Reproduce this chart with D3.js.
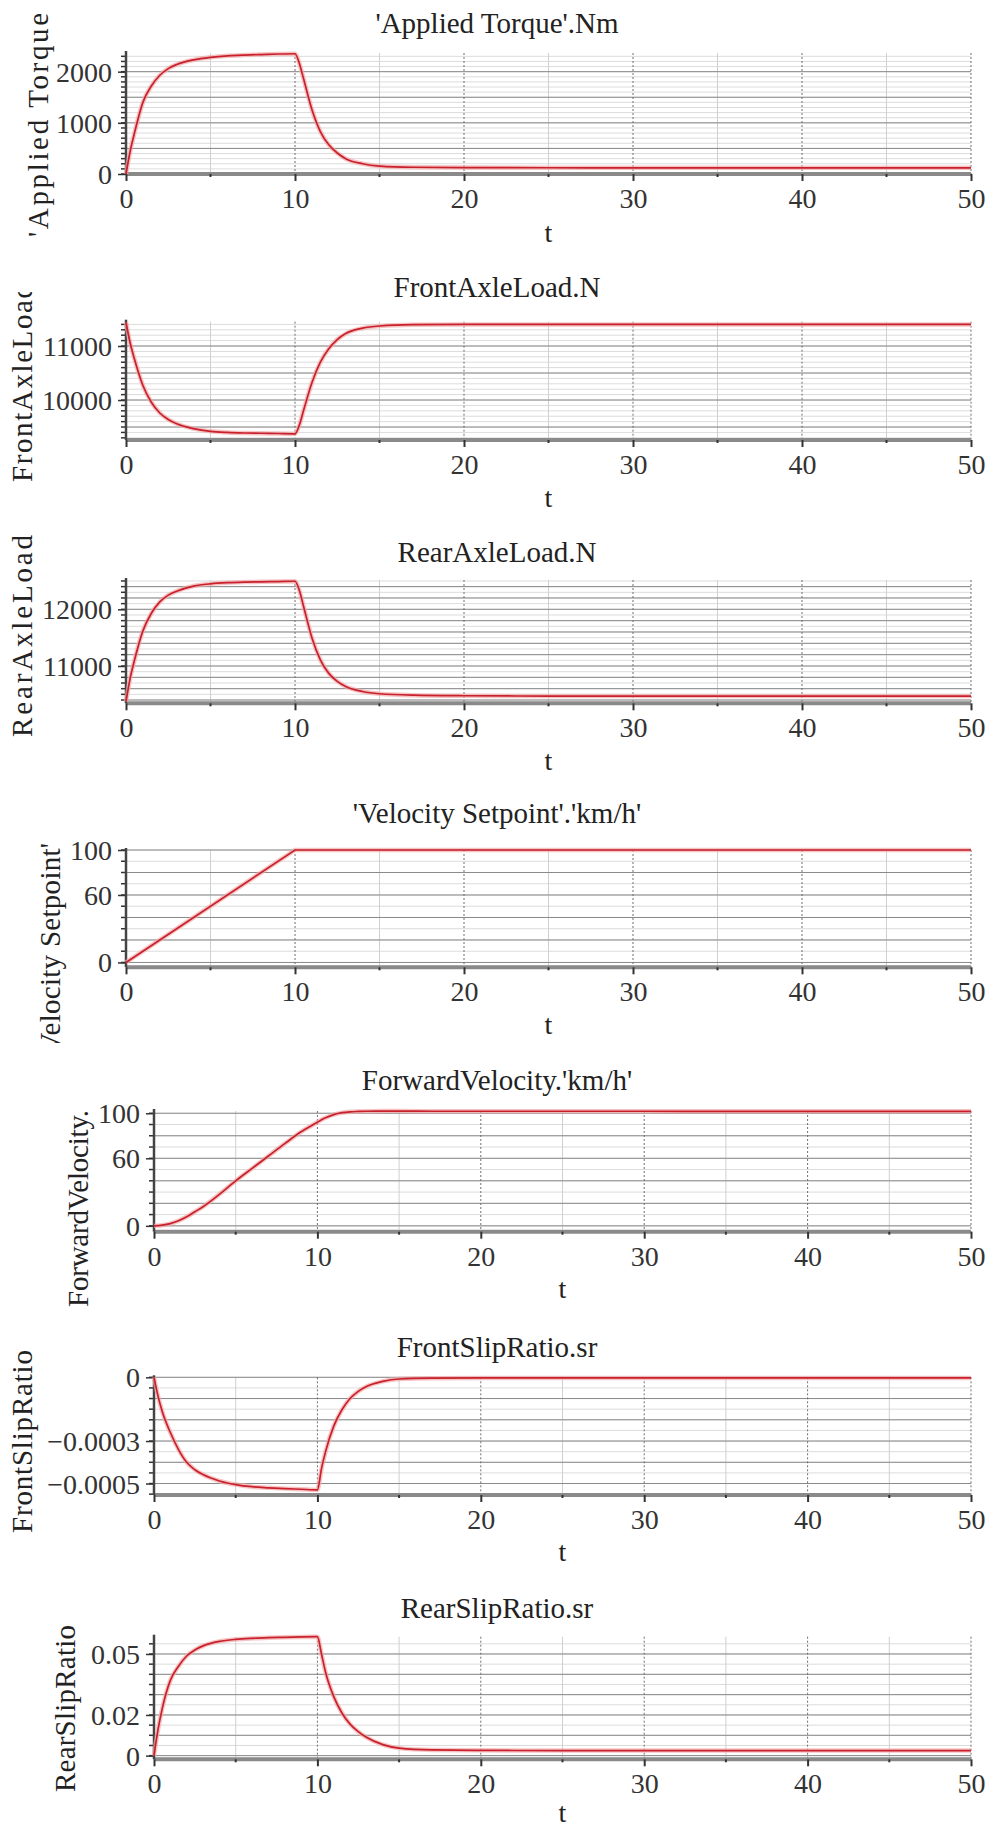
<!DOCTYPE html>
<html><head><meta charset="utf-8">
<script src="https://cdn.jsdelivr.net/npm/d3@7"></script>
<style>body{margin:0;background:#fff}svg{display:block}</style>
</head><body>
<svg id="c" width="997" height="1829"></svg>
<script>
// ---------- data ----------
const xTicks = [0, 10, 20, 30, 40, 50];
const time = [0,0.25,0.5,1,1.5,2,2.5,3,4,5,6,7,8,9,10,10.25,10.5,11,11.5,12,12.5,13,14,15,17,20,25,30,35,40,45,50];

const appliedTorque = [0,450,800,1400,1720,1930,2060,2140,2230,2280,2310,2325,2335,2345,2350,
  2170,1870,1260,830,570,410,300,200,155,132,125,122,120,120,120,120,120];
const frontAxleLoad = [11440,11050,10760,10270,9960,9760,9640,9560,9470,9420,9400,9390,9385,9380,9375,
  9530,9800,10320,10700,10950,11120,11230,11330,11370,11395,11400,11400,11400,11400,11400,11400,11400];
const rearAxleLoad = [10370,10790,11100,11620,11930,12130,12250,12320,12410,12450,12470,12480,12485,12490,12495,
  12340,12060,11500,11110,10870,10730,10640,10550,10510,10485,10475,10470,10470,10470,10470,10470,10470];
const setpointTime = [0, 10, 50];
const velocitySetpoint = [0, 100, 100];
const forwardVelocity = [0,0.2,0.6,2,4.5,8,12.5,17,28,40,51,62,73,83.5,92,
  94.2,96,98.8,100.5,101.3,101.6,101.8,101.9,101.9,101.8,101.8,101.8,101.8,101.7,101.7,101.7,101.7];
const frontSlipRatio = [0,-0.00009,-0.00016,-0.00026,-0.00034,-0.0004,-0.000435,-0.000458,-0.000488,-0.000505,-0.000515,-0.00052,-0.000524,-0.000527,-0.00053,
  -0.00043,-0.00035,-0.00023,-0.000153,-0.0001,-0.000066,-0.000043,-0.000019,-0.000008,-0.000004,-0.000003,-0.000003,-0.000003,-0.000003,-0.000003,-0.000003,-0.000003];
const rearSlipRatio = [0,0.013,0.023,0.037,0.044,0.049,0.052,0.054,0.0562,0.0572,0.0577,0.058,0.0582,0.0584,0.0585,
  0.05,0.041,0.029,0.021,0.0155,0.0118,0.009,0.0054,0.0037,0.0028,0.0026,0.0025,0.0025,0.0025,0.0025,0.0025,0.0025];

const titles = ["'Applied Torque'.Nm", "FrontAxleLoad.N", "RearAxleLoad.N", "'Velocity Setpoint'.'km/h'",
  "ForwardVelocity.'km/h'", "FrontSlipRatio.sr", "RearSlipRatio.sr"];
const yLabels = ["'Applied Torque", "FrontAxleLoad", "RearAxleLoad", "'Velocity Setpoint'",
  "ForwardVelocity.", "FrontSlipRatio", "RearSlipRatio"];
const yTickLabels = [[0,1000,2000],[10000,11000],[11000,12000],[0,60,100],[0,60,100],[0,-0.0003,-0.0005],[0,0.02,0.05]];
const yDomains = [[0,2365],[9260,11450],[10342,12517],[-4.3,100],[-5.2,102],[-0.000554,0],[-0.0018,0.0585]];
const gridSteps = [[500,100],[500,100],[200,100],[20,10],[20,10],[0.0001,0.00005],[0.01,0.005]];
const series = [
  [time, appliedTorque], [time, frontAxleLoad], [time, rearAxleLoad], [setpointTime, velocitySetpoint],
  [time, forwardVelocity], [time, frontSlipRatio], [time, rearSlipRatio]
];

// ---------- layout ----------
const layout = [
  {x0:126, top:53,    bottom:174,    titleY:33,   tY:242,  lx:48, ly:237,  llen:224},
  {x0:126, top:321.7, bottom:440,    titleY:297,  tY:507,  lx:32, ly:482,  llen:198, clipTop:292},
  {x0:126, top:580,   bottom:703.3,  titleY:562,  tY:770,  lx:32, ly:737,  llen:202},
  {x0:126, top:850,   bottom:967.3,  titleY:823,  tY:1034, lx:60, ly:1059, llen:216, clipBottom:1043},
  {x0:154, top:1111,  bottom:1231.7, titleY:1090, tY:1298, lx:88, ly:1307, llen:197},
  {x0:154, top:1377.3,bottom:1495,   titleY:1357, tY:1561, lx:32, ly:1533, llen:183},
  {x0:154, top:1636.7,bottom:1759.3, titleY:1618, tY:1822, lx:75, ly:1792, llen:167}
];
const X1 = 971;
const FONT = "'Liberation Serif', 'Times New Roman', serif";

const svg = d3.select("#c");
const defs = svg.append("defs");
const fmt = d => d < 0 ? "\u2212" + String(-d) : String(d);

function gridValues(dom, step) {
  const a = Math.ceil(dom[0] / step - 1e-9), b = Math.floor(dom[1] / step + 1e-9);
  return d3.range(a, b + 1).map(i => +(i * step).toPrecision(10));
}

layout.forEach((L, i) => {
  const g = svg.append("g").style("font-family", FONT);
  const x = d3.scaleLinear().domain([0, 50]).range([L.x0, X1]);
  const y = d3.scaleLinear().domain(yDomains[i]).range([L.bottom, L.top]);
  const [major, minor] = gridSteps[i];

  // minor horizontal grid
  g.append("g").selectAll("line").data(gridValues(yDomains[i], minor)).join("line")
    .attr("x1", L.x0).attr("x2", X1).attr("y1", d => y(d)).attr("y2", d => y(d))
    .attr("stroke", "#dcdcdc").attr("stroke-width", 1);
  // vertical grid at 5s
  g.append("g").selectAll("line").data([5,15,25,35,45]).join("line")
    .attr("x1", d => x(d)).attr("x2", d => x(d)).attr("y1", L.top).attr("y2", L.bottom)
    .attr("stroke", "#d0d0d0").attr("stroke-width", 1);
  // major horizontal grid
  g.append("g").selectAll("line").data(gridValues(yDomains[i], major)).join("line")
    .attr("x1", L.x0).attr("x2", X1).attr("y1", d => y(d)).attr("y2", d => y(d))
    .attr("stroke", "#8a8a8a").attr("stroke-width", 1);
  // vertical grid at 10s
  g.append("g").selectAll("line").data(xTicks.slice(1)).join("line")
    .attr("x1", d => x(d)).attr("x2", d => x(d)).attr("y1", L.top).attr("y2", L.bottom)
    .attr("stroke", "#6e6e6e").attr("stroke-width", 1).attr("stroke-dasharray", "2,2");

  // x axis line
  g.append("line").attr("x1", L.x0).attr("x2", X1).attr("y1", L.bottom).attr("y2", L.bottom)
    .attr("stroke", "#8a8a8a").attr("stroke-width", 4);
  // x axis ticks
  const xAxis = d3.axisBottom(x).tickValues(xTicks).tickSize(7).tickFormat(d3.format("d"));
  const xa = g.append("g").attr("transform", `translate(0,${L.bottom})`).call(xAxis);
  xa.attr("font-family", null).style("font-family", FONT);
  xa.select(".domain").remove();
  xa.selectAll(".tick line").attr("stroke", "#333").attr("stroke-width", 2);
  xa.selectAll(".tick text").style("font-family", FONT).attr("font-size", 28).attr("fill", "#333")
    .attr("y", 14).attr("dy", "0.71em");
  g.append("g").selectAll("line").data([5,15,25,35,45]).join("line")
    .attr("x1", d => x(d)).attr("x2", d => x(d)).attr("y1", L.bottom).attr("y2", L.bottom + 3)
    .attr("stroke", "#333").attr("stroke-width", 2);

  // y axis: minor ticks + line
  g.append("g").selectAll("line").data(gridValues(yDomains[i], minor)).join("line")
    .attr("x1", L.x0 - 5).attr("x2", L.x0).attr("y1", d => y(d)).attr("y2", d => y(d))
    .attr("stroke", "#333").attr("stroke-width", 1.5);
  const yAxis = d3.axisLeft(y).tickValues(yTickLabels[i]).tickSize(8).tickFormat(fmt);
  const ya = g.append("g").attr("transform", `translate(${L.x0},0)`).call(yAxis);
  ya.attr("font-family", null).style("font-family", FONT);
  ya.select(".domain").remove();
  ya.selectAll(".tick line").attr("stroke", "#333").attr("stroke-width", 1.5);
  ya.selectAll(".tick text").style("font-family", FONT).attr("font-size", 28).attr("fill", "#333")
    .attr("x", -14).attr("dy", "0.34em");
  g.append("line").attr("x1", L.x0).attr("x2", L.x0).attr("y1", L.top - 2).attr("y2", L.bottom)
    .attr("stroke", "#444").attr("stroke-width", 2.5);

  // curve
  const [ts, vs] = series[i];
  const pts = ts.map((t, k) => [t, vs[k]]);
  const line = d3.line().x(d => x(d[0])).y(d => y(d[1]))
    .curve(i === 3 ? d3.curveLinear : d3.curveMonotoneX);
  g.append("path").datum(pts).attr("d", line).attr("fill", "none")
    .attr("stroke", "#f2a9a9").attr("stroke-width", 4.5).attr("stroke-opacity", 0.7);
  g.append("path").datum(pts).attr("d", line).attr("fill", "none")
    .attr("stroke", "#c8202c").attr("stroke-width", 1.7);

  // title
  g.append("text").attr("x", 497).attr("y", L.titleY).attr("text-anchor", "middle")
    .style("font-family", FONT).attr("font-size", 29).attr("fill", "#222").text(titles[i]);
  // x label
  g.append("text").attr("x", (L.x0 + X1) / 2).attr("y", L.tY).attr("text-anchor", "middle")
    .style("font-family", FONT).attr("font-size", 28).attr("fill", "#222").text("t");
  // y label (clipped like the original)
  const cid = "clipY" + i;
  const cTop = L.clipTop !== undefined ? L.clipTop : 0;
  const cBot = L.clipBottom !== undefined ? L.clipBottom : 1829;
  defs.append("clipPath").attr("id", cid).append("rect")
    .attr("x", 0).attr("y", cTop).attr("width", 130).attr("height", cBot - cTop);
  const lab = g.append("g").attr("clip-path", `url(#${cid})`).append("text")
    .attr("transform", `translate(${L.lx},${L.ly}) rotate(-90)`)
    .attr("text-anchor", "start")
    .style("font-family", FONT).attr("font-size", 29).attr("fill", "#222").text(yLabels[i]);
  const nat = lab.node().getComputedTextLength();
  const n = yLabels[i].length;
  lab.attr("letter-spacing", ((L.llen - nat) / (n - 1)).toFixed(2));
});
</script>
</body></html>
